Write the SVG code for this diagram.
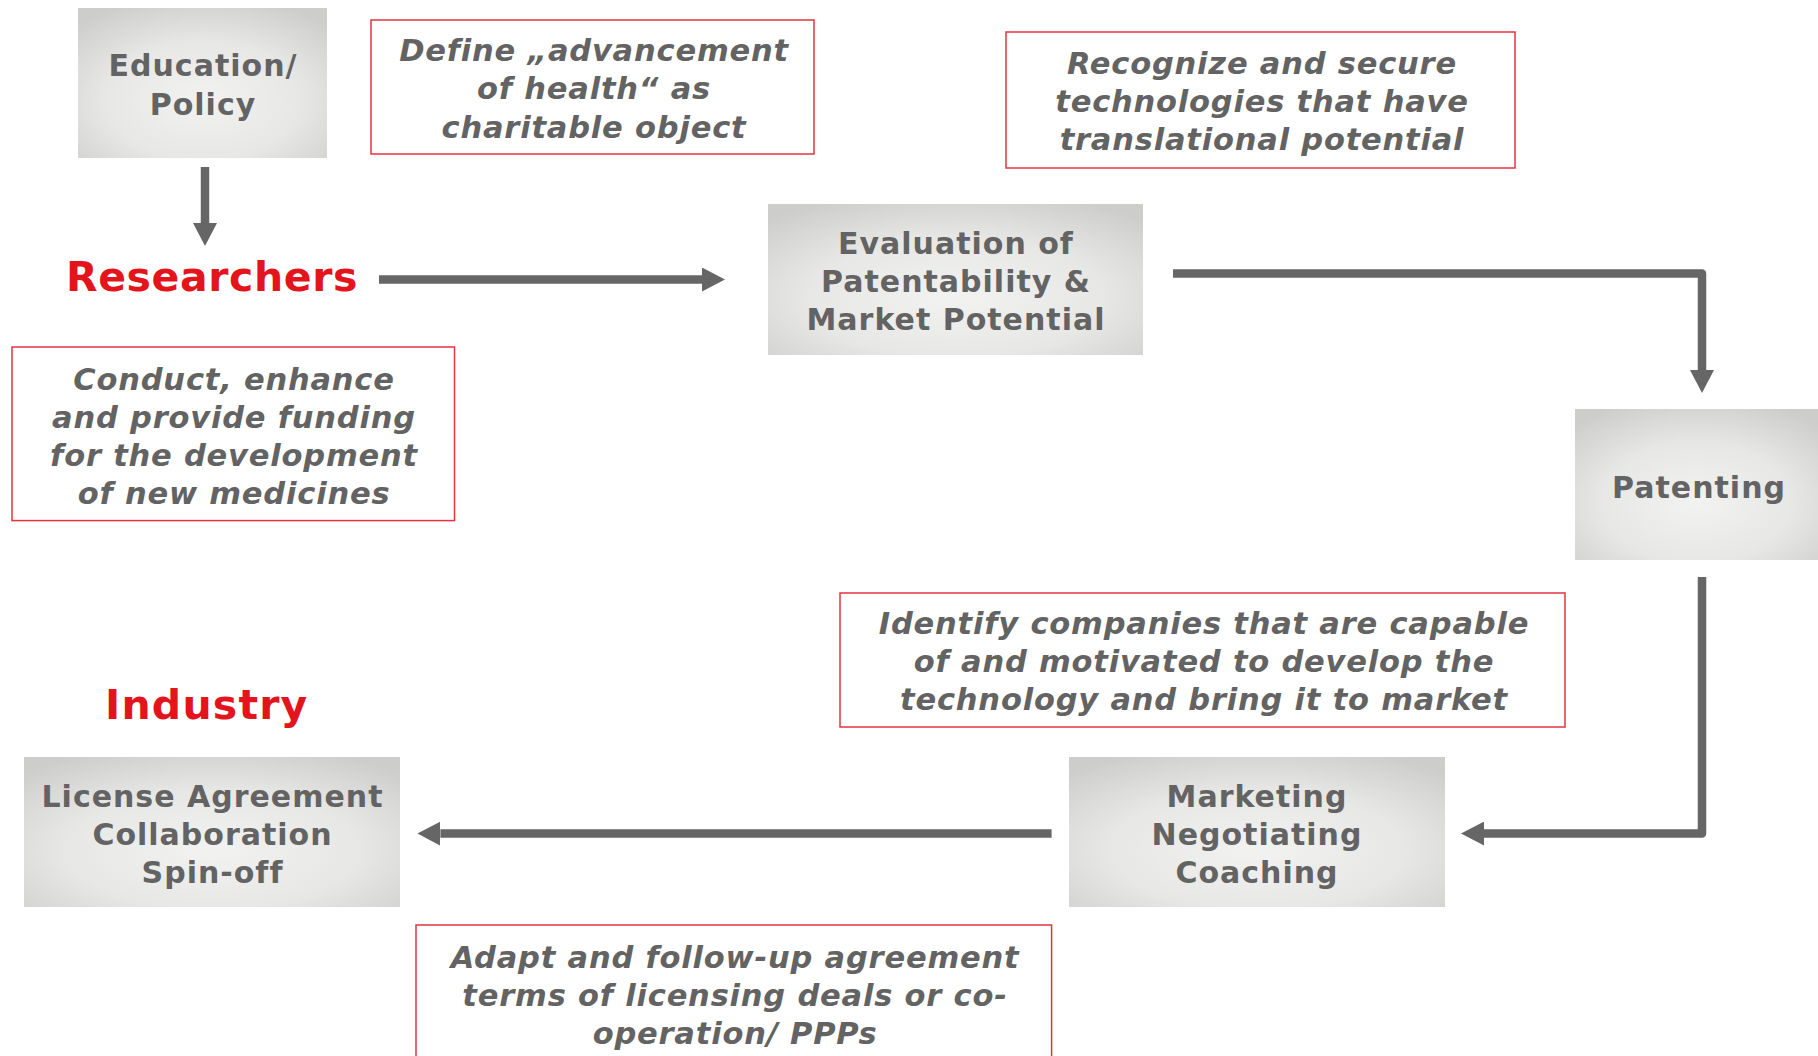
<svg xmlns="http://www.w3.org/2000/svg" width="1818" height="1056" viewBox="0 0 1818 1056">
  <style>
    .box { fill: url(#metal); }
    .note { fill: #ffffff; stroke: #e5343d; stroke-width: 1.5; }
    .bt { font-family: "DejaVu Sans", Verdana, sans-serif; font-weight: bold; font-size: 30px; letter-spacing: 1px; fill: #636363; text-anchor: middle; }
    .nt { font-family: "DejaVu Sans", Verdana, sans-serif; font-weight: bold; font-style: italic; font-size: 30.5px; letter-spacing: 0.8px; fill: #636363; text-anchor: middle; }
    .rt { font-family: "DejaVu Sans", Verdana, sans-serif; font-weight: bold; font-size: 41px; fill: #e3141c; }
    .conn { fill: none; stroke: #666666; stroke-width: 8.5; stroke-linejoin: round; marker-end: url(#head); }
  </style>
  <defs>
    <radialGradient id="metal" cx="50%" cy="62%" r="72%">
      <stop offset="0" stop-color="#f2f2f0"/>
      <stop offset="0.55" stop-color="#e7e7e5"/>
      <stop offset="1" stop-color="#cdcdcb"/>
    </radialGradient>
    <marker id="head" viewBox="0 0 23 24" markerUnits="userSpaceOnUse" markerWidth="23" markerHeight="24" refX="0" refY="12" orient="auto">
      <path d="M0,0 L23,12 L0,24 z" fill="#666666"/>
    </marker>
  </defs>
  <rect width="1818" height="1056" fill="#ffffff"/>

  <g id="connectors">
    <path class="conn" d="M205,167 V223"/>
    <path class="conn" d="M379,279.5 H702"/>
    <path class="conn" d="M1173,273.6 H1702 V370"/>
    <path class="conn" d="M1702,577 V833.6 H1484"/>
    <path class="conn" d="M1051.6,833.6 H440.4"/>
  </g>

  <g id="education-policy">
    <rect class="box" x="78" y="8" width="249" height="150"/>
    <text class="bt" x="203" y="76">Education/</text>
    <text class="bt" x="203" y="114.5">Policy</text>
  </g>

  <g id="note-define">
    <rect class="note" x="371" y="20" width="443" height="134"/>
    <text class="nt" x="594" y="60.5">Define „advancement</text>
    <text class="nt" x="594" y="98.5">of health“ as</text>
    <text class="nt" x="594" y="137.5">charitable object</text>
  </g>

  <g id="note-recognize">
    <rect class="note" x="1006" y="32" width="509" height="136"/>
    <text class="nt" x="1262" y="73.5">Recognize and secure</text>
    <text class="nt" x="1262" y="111.5">technologies that have</text>
    <text class="nt" x="1262" y="149.5">translational potential</text>
  </g>

  <g id="researchers">
    <text class="rt" x="66" y="291" letter-spacing="0.6">Researchers</text>
  </g>

  <g id="evaluation">
    <rect class="box" x="768" y="204" width="375" height="151"/>
    <text class="bt" x="956" y="253.5">Evaluation of</text>
    <text class="bt" x="956" y="291.5">Patentability &amp;</text>
    <text class="bt" x="956" y="329.5">Market Potential</text>
  </g>

  <g id="note-conduct">
    <rect class="note" x="12" y="347" width="442.5" height="173.6"/>
    <text class="nt" x="234" y="389.5">Conduct, enhance</text>
    <text class="nt" x="234" y="427.5">and provide funding</text>
    <text class="nt" x="234" y="465.5">for the development</text>
    <text class="nt" x="234" y="503.5">of new medicines</text>
  </g>

  <g id="patenting">
    <rect class="box" x="1575" y="409" width="243" height="151"/>
    <text class="bt" x="1699" y="498">Patenting</text>
  </g>

  <g id="note-identify">
    <rect class="note" x="840" y="593" width="725" height="134"/>
    <text class="nt" x="1204" y="633.5">Identify companies that are capable</text>
    <text class="nt" x="1204" y="671.5">of and motivated to develop the</text>
    <text class="nt" x="1204" y="709.5">technology and bring it to market</text>
  </g>

  <g id="industry">
    <text class="rt" x="105" y="719" letter-spacing="1.2">Industry</text>
  </g>

  <g id="license">
    <rect class="box" x="24" y="757" width="376" height="150"/>
    <text class="bt" x="212.5" y="806.5">License Agreement</text>
    <text class="bt" x="212.5" y="844.5">Collaboration</text>
    <text class="bt" x="212.5" y="882.5">Spin-off</text>
  </g>

  <g id="marketing">
    <rect class="box" x="1069" y="757" width="376" height="150"/>
    <text class="bt" x="1257" y="806.5">Marketing</text>
    <text class="bt" x="1257" y="844.5">Negotiating</text>
    <text class="bt" x="1257" y="882.5">Coaching</text>
  </g>

  <g id="note-adapt">
    <rect class="note" x="416" y="925" width="635.6" height="150"/>
    <text class="nt" x="735" y="967.5">Adapt and follow-up agreement</text>
    <text class="nt" x="735" y="1005.5">terms of licensing deals or co-</text>
    <text class="nt" x="735" y="1043.5">operation/ PPPs</text>
  </g>
</svg>
